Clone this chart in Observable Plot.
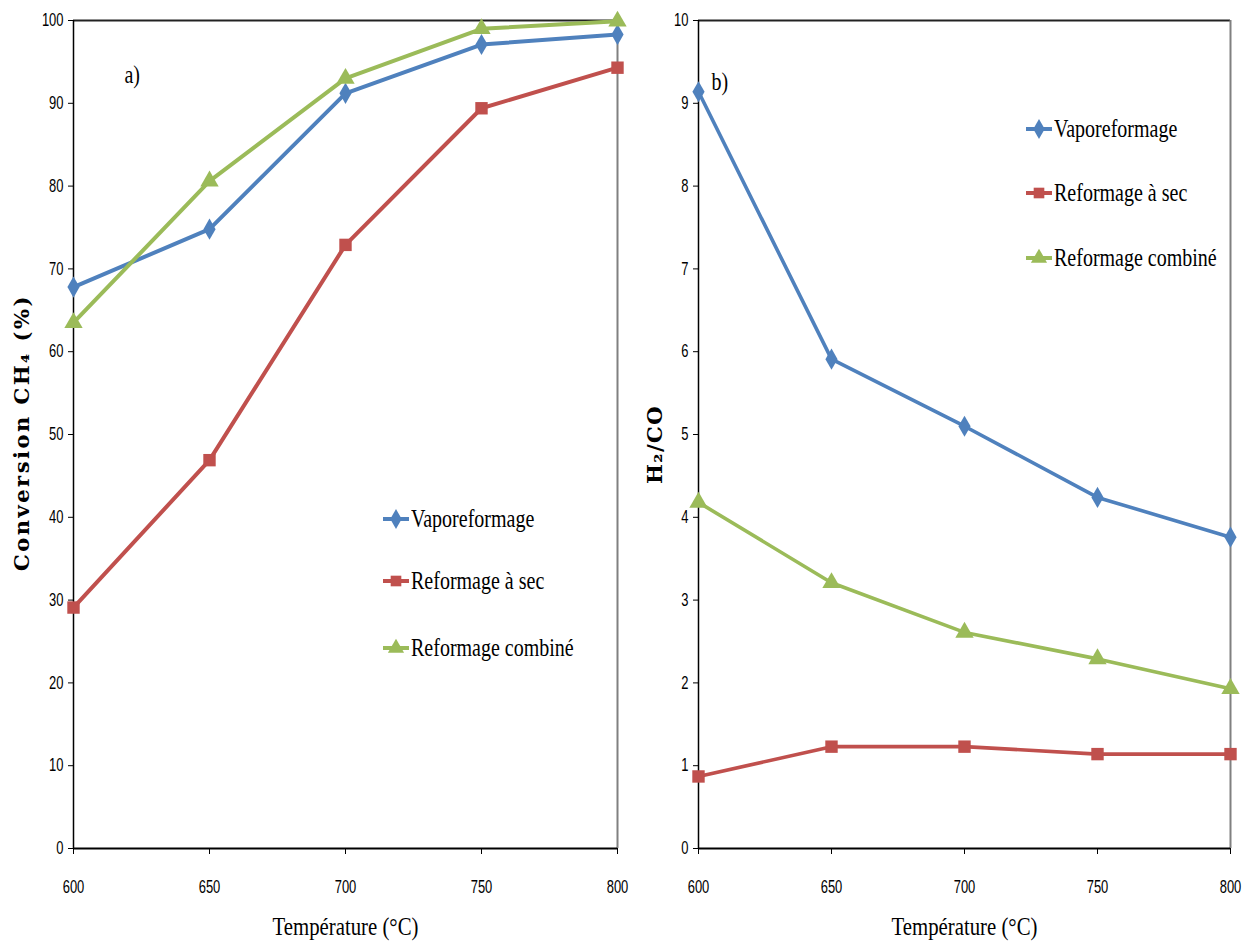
<!DOCTYPE html>
<html><head><meta charset="utf-8">
<script src="https://cdn.jsdelivr.net/npm/d3@7"></script>
<script src="https://cdn.jsdelivr.net/npm/@observablehq/plot@0.6"></script>
<style>
body{margin:0;background:#fff;}
#wrap{position:relative;width:1244px;height:947px;overflow:hidden;}
.panel{position:absolute;top:0;}
.panel svg{overflow:visible;}
.panel g[aria-label="y-axis tick label"] text,
.panel g[aria-label="x-axis tick label"] text{font-family:"Liberation Sans","DejaVu Sans",sans-serif;font-size:18px;fill:#000;}
.legend{position:absolute;font-family:"Liberation Serif",serif;font-size:25px;color:#000;}
.legend .row{position:absolute;left:0;display:flex;align-items:center;white-space:nowrap;}
.legend .row span{display:inline-block;transform:scaleX(0.8);transform-origin:left center;}
.legend svg{display:block;}
</style></head>
<body><div id="wrap"></div>
<script>
// ---- data ----
const temperatures = [600, 650, 700, 750, 800];
const seriesNames = ["Vaporeformage", "Reformage à sec", "Reformage combiné"];
const seriesColors = ["#4F81BD", "#C0504D", "#9BBB59"];
const seriesSymbols = ["diamond", "square", "triangle"];

// a) CH4 conversion (%)
const convVapo = [67.8, 74.8, 91.2, 97.1, 98.3];
const convSec = [29.1, 46.9, 72.9, 89.4, 94.3];
const convComb = [63.5, 80.6, 93.0, 99.0, 99.9];
const yTicksA = [0, 10, 20, 30, 40, 50, 60, 70, 80, 90, 100];

// b) H2/CO ratio
const ratioVapo = [9.14, 5.91, 5.10, 4.24, 3.76];
const ratioSec = [0.87, 1.23, 1.23, 1.14, 1.14];
const ratioComb = [4.18, 3.21, 2.61, 2.29, 1.93];
const yTicksB = [0, 1, 2, 3, 4, 5, 6, 7, 8, 9, 10];

const xTitle = "Température (°C)";
const yTitleA = "Conversion CH₄ (%)";
const yTitleB = "H₂/CO";

function rowsOf(arrs) {
  const rows = [];
  arrs.forEach((vals, i) => vals.forEach((v, j) => rows.push({series: seriesNames[i], t: temperatures[j], v})));
  return rows;
}
const rowsA = rowsOf([convVapo, convSec, convComb]);
const rowsB = rowsOf([ratioVapo, ratioSec, ratioComb]);

const symR = {"Vaporeformage": 6.4, "Reformage à sec": 7.0, "Reformage combiné": 6.8};

function squeezeSel(sel, k) {
  sel.each(function() {
    const t = this.getAttribute("transform") || "";
    this.setAttribute("transform", t + ` scale(${k},1)`);
  });
}
function byText(svg, str) {
  return d3.select(svg).selectAll("text").filter(function() { return this.textContent === str; });
}

function panel(rows, yTicks, opts) {
  const yMax = yTicks[yTicks.length - 1];
  const xMin = temperatures[0], xMax = temperatures[temperatures.length - 1];
  const dots = seriesNames.map(s => Plot.dot(rows.filter(d => d.series === s), {
    x: "t", y: "v", symbol: "series", fill: "series", r: symR[s], stroke: "none"
  }));
  const svg = Plot.plot({
    width: opts.width, height: 947,
    marginLeft: opts.ml, marginRight: opts.mr, marginTop: 20, marginBottom: 99,
    style: {background: "transparent", overflow: "visible"},
    x: {domain: [xMin, xMax], ticks: temperatures},
    y: {domain: [0, yMax], ticks: yTicks},
    color: {domain: seriesNames, range: seriesColors},
    symbol: {domain: seriesNames, range: seriesSymbols},
    marks: [
      Plot.ruleY([yMax], {stroke: "#222", strokeWidth: 2}),
      Plot.ruleX([xMax], {stroke: "#808080", strokeWidth: 2}),
      Plot.axisY({ticks: yTicks, tickSize: 5, tickPadding: 5, label: null, tickFormat: d => String(d)}),
      Plot.axisX({ticks: temperatures, tickSize: 6, tickPadding: 26, label: null, tickFormat: d => String(d)}),
      Plot.ruleY([0], {stroke: "#000", strokeWidth: 2}),
      Plot.ruleX([xMin], {stroke: "#000", strokeWidth: 1.5}),
      Plot.line(rows, {x: "t", y: "v", z: "series", stroke: "series", strokeWidth: opts.lw}),
      ...dots,
      Plot.text([xTitle], {frameAnchor: "bottom", dy: 86, fontFamily: "Liberation Serif", fontSize: 26, fill: "#000"}),
      Plot.text([opts.yTitle], {frameAnchor: "left", textAnchor: "middle", dx: opts.ytdx, dy: opts.ytdy, rotate: -90, fontFamily: "DejaVu Serif", fontWeight: "bold", fontSize: 21, fill: "#000"}),
      Plot.text([opts.tag], {frameAnchor: "top-left", dx: opts.tagdx, dy: opts.tagdy, fontFamily: "Liberation Serif", fontSize: 25, fill: "#000"})
    ]
  });
  squeezeSel(d3.select(svg).selectAll('g[aria-label="y-axis tick label"] text'), 0.72);
  squeezeSel(d3.select(svg).selectAll('g[aria-label="x-axis tick label"] text'), 0.72);
  squeezeSel(byText(svg, xTitle), 0.8);
  squeezeSel(byText(svg, opts.tag), 0.8);
  byText(svg, opts.yTitle).style("letter-spacing", opts.ls + "px");
  return svg;
}

const wrap = document.getElementById("wrap");
function addPanel(el, left) {
  const d = document.createElement("div");
  d.className = "panel"; d.style.left = left + "px";
  d.appendChild(el); wrap.appendChild(d);
}
addPanel(panel(rowsA, yTicksA, {width: 640, ml: 73, mr: 23, lw: 4, yTitle: yTitleA, ytdx: -51, ytdy: -2, ls: 2.5, tag: "a)", tagdx: 51, tagdy: 45}), 0);
addPanel(panel(rowsB, yTicksB, {width: 604, ml: 58, mr: 14, lw: 3.6, yTitle: yTitleB, ytdx: -43, ytdy: 10, ls: 1.5, tag: "b)", tagdx: 13, tagdy: 52}), 640);

// ---- legends ----
function legend(left, tops) {
  const lg = document.createElement("div");
  lg.className = "legend"; lg.style.left = left + "px"; lg.style.top = "0px";
  seriesNames.forEach((s, i) => {
    const row = document.createElement("div");
    row.className = "row"; row.style.top = (tops[i] - 16) + "px";
    const svg = d3.create("svg").attr("width", 28).attr("height", 32);
    svg.append("line").attr("x1", 0).attr("x2", 26).attr("y1", 16).attr("y2", 16)
      .attr("stroke", seriesColors[i]).attr("stroke-width", 4);
    const sym = [d3.symbolDiamond, d3.symbolSquare, d3.symbolTriangle][i];
    svg.append("path").attr("d", d3.symbol(sym, Math.PI * 36)()).attr("transform", "translate(13,16)")
      .attr("fill", seriesColors[i]);
    row.appendChild(svg.node());
    const sp = document.createElement("span"); sp.textContent = s;
    row.appendChild(sp);
    lg.appendChild(row);
  });
  wrap.appendChild(lg);
}
legend(383, [519, 581, 648]);
legend(1026, [129, 193, 258]);
</script>
</body></html>
